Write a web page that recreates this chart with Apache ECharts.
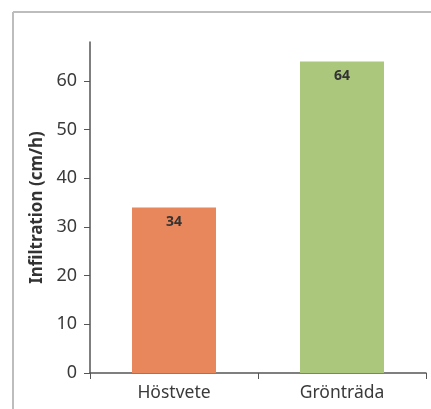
<!DOCTYPE html>
<html>
<head>
<meta charset="utf-8">
<script src="https://cdn.jsdelivr.net/npm/echarts@6/dist/echarts.min.js"></script>
<style>
  html, body { margin: 0; padding: 0; background: #fff; }
  #chart { width: 431px; height: 409px; }
</style>
</head>
<body>
<div id="chart"></div>
<script>
var categories = ['Höstvete', 'Grönträda'];
var values = [34, 64];
var barColors = ['#e8865c', '#abc77c'];
var yTicks = [0, 10, 20, 30, 40, 50, 60];

var chart = echarts.init(document.getElementById('chart'));

var option = {
    animation: false,
    backgroundColor: '#fff',
    textStyle: { fontFamily: 'Noto Sans' },
    graphic: [
        { type: 'line', shape: { x1: 13, y1: 12, x2: 431, y2: 12 }, style: { stroke: '#bdbdbd', lineWidth: 2 } },
        { type: 'line', shape: { x1: 13, y1: 12, x2: 13, y2: 409 }, style: { stroke: '#bdbdbd', lineWidth: 2 } }
    ],
    grid: { left: 90, right: 5, top: 42, bottom: 36, containLabel: false },
    xAxis: {
        type: 'category',
        data: categories,
        axisLine: { lineStyle: { color: '#555', width: 1.5 } },
        axisTick: { show: true, length: 6, lineStyle: { color: '#555' } },
        axisLabel: { color: '#3a3a3a', fontSize: 17.5, margin: 11 }
    },
    yAxis: {
        type: 'value',
        min: 0,
        max: 68,
        interval: 10,
        name: 'Infiltration (cm/h)',
        nameLocation: 'middle',
        nameGap: 40,
        nameTextStyle: { color: '#333', fontSize: 17, fontWeight: 'bold' },
        splitLine: { show: false },
        axisLine: { show: true, lineStyle: { color: '#555', width: 1.5 } },
        axisTick: { show: true, length: 6, customValues: yTicks, lineStyle: { color: '#555' } },
        axisLabel: { color: '#3a3a3a', fontSize: 18, margin: 13, customValues: yTicks }
    },
    series: [
        {
            type: 'bar',
            barWidth: '50%',
            data: values.map(function (v, i) {
                return { value: v, itemStyle: { color: barColors[i] } };
            }),
            label: {
                show: true,
                position: 'insideTop',
                distance: 8,
                color: '#333',
                fontSize: 14,
                fontWeight: 'bold'
            }
        }
    ]
};

chart.setOption(option);
</script>
</body>
</html>
